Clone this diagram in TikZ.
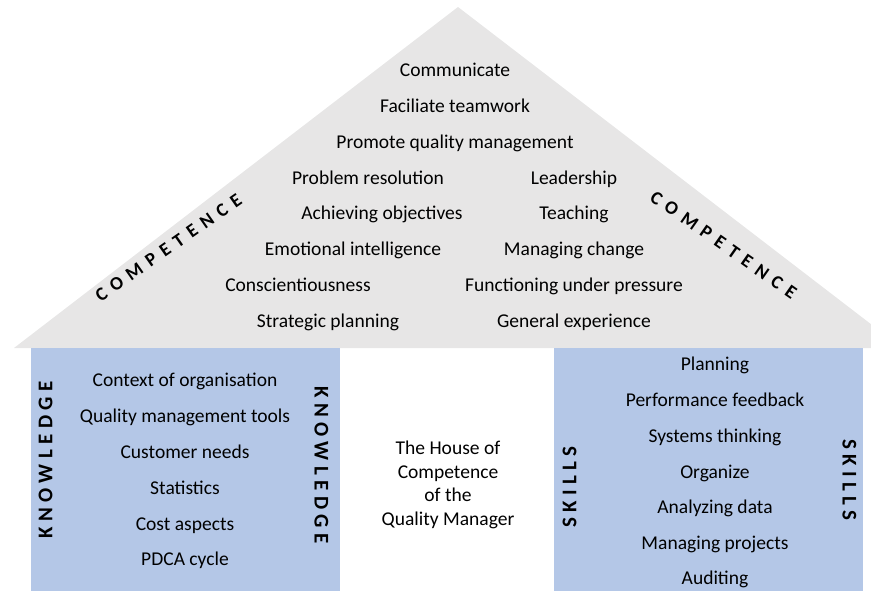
\documentclass[tikz,border=0pt]{standalone}
\usepackage{fontspec}
\setmainfont{Carlito}
\definecolor{roofgray}{HTML}{E7E6E6}
\definecolor{boxblue}{HTML}{B4C7E7}
\begin{document}
\begin{tikzpicture}[x=1bp,y=-1bp,
  txt/.style={font=\fontsize{19.6}{23.5}\selectfont, inner sep=0pt, text height=0.7em, text depth=0.22em, anchor=center, yshift=-4bp},
  ctxt/.style={font=\fontsize{19.6}{23.6}\selectfont, inner sep=0pt, align=center, anchor=center, yshift=-3bp},
  spaced/.style={font=\fontsize{21}{22}\selectfont\bfseries\addfontfeature{LetterSpace=26}, inner sep=0pt, text height=0.7em, text depth=0pt},
  comp/.style={font=\fontsize{19}{20}\selectfont\bfseries\addfontfeature{LetterSpace=38}, inner sep=0pt, text height=0.7em, text depth=0pt}
]
\useasboundingbox (0,0) rectangle (871,591);
\begin{scope}
  \clip (0,0) rectangle (871,591);
  \fill[roofgray] (14,348) -- (458,7) -- (902,348) -- cycle;
\end{scope}
\fill[boxblue] (31,348) rectangle (340,591);
\fill[boxblue] (554,348) rectangle (863,591);

% roof
\node[txt] (c1) at (455,70) {Communicate};
\node[txt] (c2) at (455,106) {Faciliate teamwork};
\node[txt] (c3) at (455,142) {Promote quality management};
\node[txt] (l1) at (368,178) {Problem resolution};
\node[txt] (l2) at (382,213) {Achieving objectives};
\node[txt] (l3) at (353,249) {Emotional intelligence};
\node[txt] (l4) at (298,285) {Conscientiousness};
\node[txt] (l5) at (328,321) {Strategic planning};
\node[txt] (r1) at (574,178) {Leadership};
\node[txt] (r2) at (574,213) {Teaching};
\node[txt] (r3) at (574,249) {Managing change};
\node[txt] (r4) at (574,285) {Functioning under pressure};
\node[txt] (r5) at (574,321) {General experience};
\node[comp, rotate=35] (compL) at (170,250) {COMPETENCE};
\node[comp, rotate=-35] (compR) at (722,247) {COMPETENCE};

% knowledge
\node[txt] (k1) at (185,380) {Context of organisation};
\node[txt] (k2) at (185,416) {Quality management tools};
\node[txt] (k3) at (185,452) {Customer needs};
\node[txt] (k4) at (185,488) {Statistics};
\node[txt] (k5) at (185,524) {Cost aspects};
\node[txt] (k6) at (185,559) {PDCA cycle};
\node[spaced, rotate=90] (knL) at (49,460) {KNOWLEDGE};
\node[spaced, rotate=-90] (knR) at (318,465) {KNOWLEDGE};

% centre
\node[ctxt] (house) at (448,482) {The House of\\Competence\\of the\\Quality Manager};

% skills
\node[txt] (s1) at (715,364) {Planning};
\node[txt] (s2) at (715,400) {Performance feedback};
\node[txt] (s3) at (715,436) {Systems thinking};
\node[txt] (s4) at (715,472) {Organize};
\node[txt] (s5) at (715,507) {Analyzing data};
\node[txt] (s6) at (715,543) {Managing projects};
\node[txt] (s7) at (715,578) {Auditing};
\node[spaced, rotate=90] (skL) at (573,487) {SKILLS};
\node[spaced, rotate=-90] (skR) at (846,480) {SKILLS};
\end{tikzpicture}
\end{document}
